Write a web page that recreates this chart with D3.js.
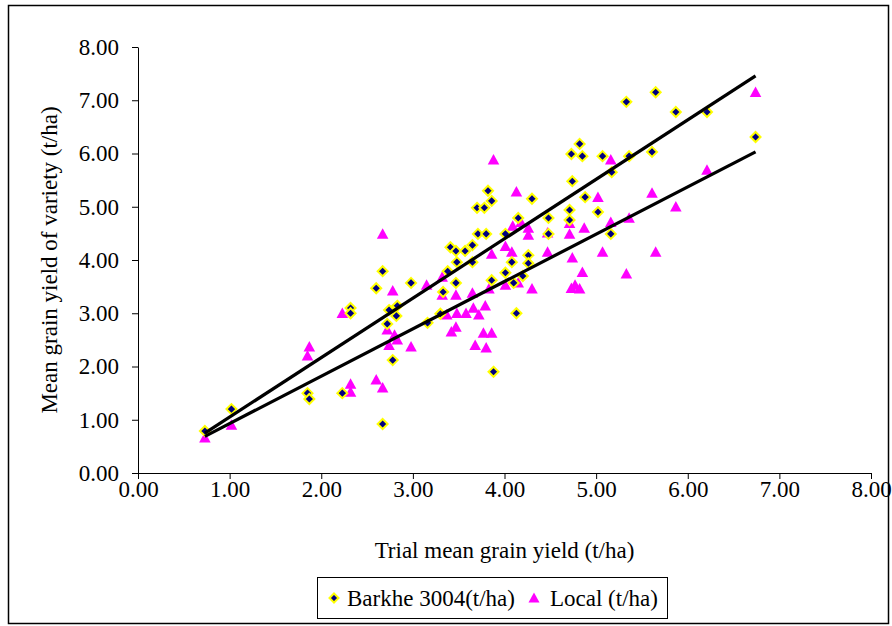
<!DOCTYPE html>
<html>
<head>
<meta charset="utf-8">
<script src="https://cdn.jsdelivr.net/npm/d3@7"></script>
<style>
  body { margin: 0; background: #fff; }
  svg text { font-family: "Liberation Serif", "Times New Roman", serif; }
</style>
</head>
<body>
<div id="chart"></div>
<script>
// trial mean (x) and variety yield (y), t/ha
var barkheX = [0.73,1.02,1.85,1.87,2.23,2.32,2.32,2.60,2.67,2.67,2.74,2.83,2.82,2.72,2.78,2.98,3.16,3.30,3.33,3.38,
  3.41,3.47,3.47,3.48,3.57,3.65,3.65,3.70,3.71,3.78,3.80,3.82,3.86,3.86,3.88,4.01,4.01,4.08,4.10,4.13,
  4.15,4.20,4.26,4.26,4.30,4.48,4.48,4.71,4.71,4.73,4.74,4.82,4.85,4.88,5.02,5.07,5.16,5.17,5.33,5.36,
  5.61,5.65,5.87,6.21,6.74];
var barkheY = [0.79,1.20,1.50,1.39,1.50,3.10,3.00,3.47,3.79,0.92,3.06,3.14,2.95,2.80,2.12,3.57,2.82,2.99,3.40,3.79,
  4.24,4.17,3.57,3.96,4.17,4.28,3.96,4.98,4.49,4.98,4.49,5.30,5.11,3.62,1.90,4.49,3.76,3.96,3.57,3.00,
  4.79,3.70,4.09,3.94,5.15,4.79,4.49,4.94,4.75,5.99,5.48,6.18,5.95,5.18,4.90,5.95,4.49,5.65,6.97,5.95,
  6.03,7.15,6.78,6.78,6.31];

var localX = [0.73,1.02,1.85,1.87,2.23,2.32,2.32,2.60,2.67,2.67,2.72,2.78,2.80,2.83,2.74,2.98,3.15,3.32,3.32,3.47,
  3.37,3.48,3.58,3.66,3.72,3.79,3.65,3.42,3.47,3.68,3.77,3.80,3.86,3.83,3.88,3.86,4.01,4.01,4.08,4.09,
  4.13,4.15,4.18,4.26,4.26,4.30,4.47,4.47,4.71,4.71,4.74,4.73,4.77,4.82,4.85,4.87,5.02,5.07,5.16,5.16,
  5.33,5.36,5.61,5.65,5.87,6.21,6.74];
var localY = [0.66,0.90,2.20,2.37,3.00,1.67,1.52,1.75,1.60,4.49,2.69,3.42,2.59,2.50,2.40,2.37,3.53,3.68,3.34,3.34,
  2.97,3.00,3.00,3.10,2.97,3.14,3.38,2.65,2.74,2.40,2.63,2.35,2.63,3.46,5.88,4.11,4.26,3.53,4.15,4.64,
  5.28,3.57,4.71,4.60,4.47,3.46,4.51,4.15,4.69,4.49,4.04,3.47,3.53,3.46,3.77,4.60,5.18,4.15,5.88,4.71,
  3.74,4.79,5.26,4.15,5.00,5.69,7.15];

// linear trend lines as drawn: [slope, intercept]
var barkheTrend = [1.116, -0.065];
var localTrend = [0.889, 0.04];

var tickValues = [0,1,2,3,4,5,6,7,8];
var seriesNames = ["Barkhe 3004(t/ha)", "Local (t/ha)"];

var W = 892, H = 626;
var margin = {left: 138, right: 21, top: 47, bottom: 153};
var FONT = "'Liberation Serif', 'Times New Roman', serif";
var FS = 23;

var svg = d3.select("#chart").append("svg")
  .attr("width", W).attr("height", H);

// outer frame
svg.append("rect")
  .attr("x", 8.5).attr("y", 5.5)
  .attr("width", 880).attr("height", 618)
  .attr("fill", "#fff").attr("stroke", "#000").attr("stroke-width", 1.5);

var x = d3.scaleLinear().domain([0, 8]).range([margin.left, W - margin.right]);
var y = d3.scaleLinear().domain([0, 8]).range([H - margin.bottom, margin.top]);

var fmt = d3.format(".2f");

var xAxis = svg.append("g")
  .attr("transform", "translate(0," + y(0) + ")")
  .call(d3.axisBottom(x).tickValues(tickValues).tickFormat(fmt).tickSize(6).tickSizeOuter(0));
var yAxis = svg.append("g")
  .attr("transform", "translate(" + x(0) + ",0)")
  .call(d3.axisLeft(y).tickValues(tickValues).tickFormat(fmt).tickSize(6).tickSizeOuter(0));

[xAxis, yAxis].forEach(function(ax) {
  ax.attr("font-family", FONT).attr("font-size", FS);
  ax.selectAll("path, line").attr("stroke", "#000");
  ax.selectAll("text").attr("fill", "#000");
});
xAxis.selectAll("text").attr("dy", "0.8em").attr("y", 6);
yAxis.selectAll("text").attr("x", -19);

// axis titles
svg.append("text")
  .attr("x", (x(0) + x(8)) / 2).attr("y", 558)
  .attr("text-anchor", "middle").attr("font-family", FONT).attr("font-size", FS)
  .text("Trial mean grain yield (t/ha)");
svg.append("text")
  .attr("transform", "translate(57," + ((y(0) + y(8)) / 2) + ") rotate(-90)")
  .attr("text-anchor", "middle").attr("font-family", FONT).attr("font-size", FS)
  .text("Mean grain yield of variety (t/ha)");

// markers
function diamond(r) {
  return "M0," + (-r) + "L" + r + ",0L0," + r + "L" + (-r) + ",0Z";
}
function triangle(s) {
  return "M0," + (-s * 0.55) + "L" + (s * 0.55) + "," + (s * 0.45) + "L" + (-s * 0.55) + "," + (s * 0.45) + "Z";
}

var localData = localX.map(function(v, i) { return [v, localY[i]]; });
var barkheData = barkheX.map(function(v, i) { return [v, barkheY[i]]; });

svg.append("g").selectAll("path")
  .data(localData).enter().append("path")
  .attr("d", triangle(10.5))
  .attr("transform", function(d) { return "translate(" + x(d[0]) + "," + y(d[1]) + ")"; })
  .attr("fill", "#ff00ff");

svg.append("g").selectAll("path")
  .data(barkheData).enter().append("path")
  .attr("d", diamond(5))
  .attr("transform", function(d) { return "translate(" + x(d[0]) + "," + y(d[1]) + ")"; })
  .attr("fill", "#000080").attr("stroke", "#ffff00").attr("stroke-width", 2);

// trend lines
function trendPath(xs, t) {
  var x0 = d3.min(xs), x1 = d3.max(xs);
  return d3.line()([[x(x0), y(t[0] * x0 + t[1])], [x(x1), y(t[0] * x1 + t[1])]]);
}
svg.append("path").attr("d", trendPath(barkheX, barkheTrend))
  .attr("stroke", "#000").attr("stroke-width", 3.2).attr("fill", "none");
svg.append("path").attr("d", trendPath(localX, localTrend))
  .attr("stroke", "#000").attr("stroke-width", 3.2).attr("fill", "none");

// legend
var lg = svg.append("g").attr("font-family", FONT).attr("font-size", FS);
lg.append("rect").attr("x", 317.5).attr("y", 577.5).attr("width", 350).attr("height", 41)
  .attr("fill", "#fff").attr("stroke", "#000");
lg.append("path").attr("d", diamond(4.5)).attr("transform", "translate(334,598)")
  .attr("fill", "#000080").attr("stroke", "#ffff00").attr("stroke-width", 2);
lg.append("text").attr("x", 347).attr("y", 606).text(seriesNames[0]);
lg.append("path").attr("d", triangle(10)).attr("transform", "translate(534,598)")
  .attr("fill", "#ff00ff");
lg.append("text").attr("x", 550).attr("y", 606).text(seriesNames[1]);
</script>
</body>
</html>
